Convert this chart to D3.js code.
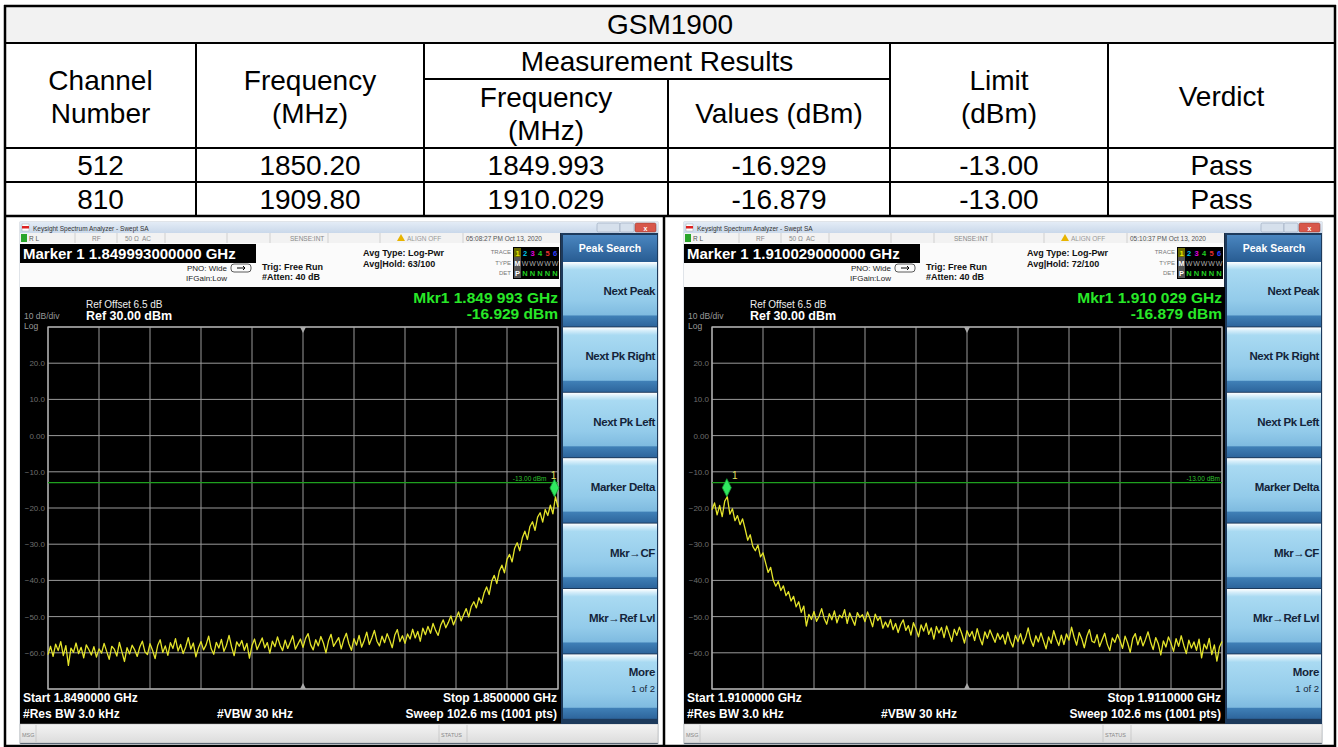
<!DOCTYPE html>
<html>
<head>
<meta charset="utf-8">
<script src="https://cdn.jsdelivr.net/npm/d3@7"></script>
<style>
  body { margin: 0; background: #fff; }
  svg text { font-family: "Liberation Sans", Arial, sans-serif; }
</style>
</head>
<body>
<svg id="chart" width="1338" height="747"></svg>
<script>
// ---- table values
var band = "GSM1900"
var groupHeader = "Measurement Results"
var colHeaders = [["Channel", "Number"], ["Frequency", "(MHz)"], ["Frequency", "(MHz)"], ["Values (dBm)"], ["Limit", "(dBm)"], ["Verdict"]]
var channels = ["512", "810"]
var channelFreqs = ["1850.20", "1909.80"]
var measFreqs = ["1849.993", "1910.029"]
var measValues = ["-16.929", "-16.879"]
var limits = ["-13.00", "-13.00"]
var verdicts = ["Pass", "Pass"]

// ---- analyzer screens
var startGHz = [1.849, 1.910]
var stopGHz = [1.850, 1.911]
var markerGHz = [1.849993, 1.910029]
var markerDbm = [-16.929, -16.879]
var avgHold = ["63/100", "72/100"]
var clock = ["05:08:27 PM Oct 13, 2020", "05:10:37 PM Oct 13, 2020"]
var refDbm = 30
var dbPerDiv = 10
var limitDbm = -13
var softkeys = ["Next Peak", "Next Pk Right", "Next Pk Left", "Marker Delta", "Mkr\u2192CF", "Mkr\u2192Ref Lvl", "More"]

// trace (dBm, evenly spaced over the sweep)
var traceLow = [
  -60.5,-58.2,-61.0,-57.6,-59.4,-56.9,-60.8,-58.0,-63.5,-58.7,-59.9,-57.3,-60.2,-58.5,-61.4,-57.8,-59.1,-60.6,-58.3,-61.2,
  -58.9,-60.1,-57.4,-59.6,-61.8,-58.2,-59.0,-60.9,-57.1,-59.8,-62.4,-58.6,-60.3,-57.9,-59.2,-61.0,-58.4,-56.8,-59.7,-60.5,
  -57.5,-59.3,-61.6,-58.0,-56.4,-59.9,-58.1,-60.7,-57.2,-58.8,-56.1,-59.5,-57.7,-60.2,-58.4,-55.8,-59.0,-57.3,-61.1,-58.6,
  -56.9,-59.2,-57.8,-55.4,-58.9,-60.4,-57.1,-58.7,-56.3,-59.6,-57.9,-55.2,-58.4,-60.8,-57.0,-58.2,-56.6,-59.3,-57.4,-61.5,
  -58.0,-56.2,-59.1,-57.5,-55.9,-58.6,-57.2,-60.1,-56.8,-58.3,-55.6,-57.9,-59.4,-56.5,-58.8,-57.1,-55.3,-59.0,-57.6,-56.2,
  -58.5,-56.0,-54.7,-57.8,-59.2,-56.4,-58.1,-55.5,-57.3,-60.0,-56.7,-54.9,-58.2,-57.0,-55.8,-58.9,-56.3,-54.6,-57.5,-59.3,
  -56.1,-57.9,-55.2,-58.4,-56.6,-54.3,-57.7,-55.9,-53.8,-56.8,-58.1,-55.4,-57.2,-54.7,-56.5,-58.6,-55.1,-53.6,-56.9,-55.3,
  -57.4,-54.8,-56.2,-53.5,-55.9,-54.1,-56.8,-53.2,-55.0,-52.7,-54.6,-51.9,-53.8,-55.2,-52.4,-50.9,-53.1,-51.6,-49.8,-52.3,
  -50.5,-48.7,-51.2,-49.4,-47.8,-50.1,-47.2,-45.9,-47.6,-44.8,-46.3,-43.5,-41.8,-43.9,-40.2,-38.6,-40.9,-37.4,-35.8,-37.9,
  -34.2,-32.8,-34.9,-31.1,-29.6,-31.8,-28.3,-26.4,-28.7,-25.1,-23.8,-26.2,-22.5,-21.3,-23.9,-20.4,-22.1,-19.2,-21.6,-16.9,-19.8
]
var traceHigh = [
  -20.5,-18.6,-21.9,-19.3,-22.4,-18.1,-16.9,-21.7,-20.2,-23.5,
  -22.1,-24.6,-23.0,-25.8,-28.9,-27.4,-30.6,-31.8,-30.2,-33.5,
  -32.4,-35.1,-37.8,-36.4,-39.9,-41.6,-40.3,-42.8,-41.5,-44.2,
  -43.1,-45.7,-44.4,-47.3,-45.9,-48.8,-47.1,-52.6,-49.4,-50.8,
  -48.6,-51.3,-49.9,-47.8,-50.5,-52.1,-49.2,-50.9,-48.4,-51.7,
  -49.6,-50.3,-48.1,-51.9,-49.0,-50.7,-52.4,-48.9,-50.2,-49.5,
  -51.4,-48.7,-50.6,-52.8,-49.3,-51.1,-50.0,-53.2,-51.5,-52.9,
  -50.8,-53.6,-51.9,-54.4,-52.2,-50.9,-53.8,-52.5,-55.1,-51.7,
  -53.4,-55.6,-52.3,-54.0,-51.8,-54.9,-53.1,-56.2,-52.7,-54.5,
  -53.0,-55.8,-52.6,-54.7,-56.9,-53.5,-55.2,-52.9,-54.8,-57.3,
  -53.9,-55.5,-54.1,-56.6,-53.3,-55.9,-57.8,-54.2,-56.0,-53.7,
  -55.4,-57.1,-54.6,-56.3,-55.0,-57.6,-54.3,-56.8,-58.4,-55.2,
  -56.9,-54.7,-57.5,-55.8,-53.1,-56.4,-58.2,-55.3,-57.0,-54.5,
  -56.7,-58.9,-55.6,-57.4,-53.9,-56.2,-58.0,-55.1,-57.7,-54.8,
  -56.5,-52.9,-55.7,-57.9,-54.4,-56.1,-58.6,-55.5,-53.6,-56.8,
  -57.2,-55.0,-58.3,-56.4,-54.6,-57.6,-59.4,-55.9,-57.1,-54.9,
  -56.6,-58.8,-55.4,-57.3,-59.9,-56.0,-54.7,-57.8,-55.5,-58.1,
  -56.3,-54.2,-57.0,-59.1,-55.8,-57.5,-60.6,-56.7,-58.4,-55.6,
  -57.4,-59.6,-56.1,-58.2,-55.3,-57.9,-60.2,-56.5,-58.7,-57.0,
  -59.3,-56.2,-61.4,-57.6,-58.9,-56.0,-60.5,-57.8,-62.3,-58.4,-56.9
]
var traces = [traceLow, traceHigh]

var svg = d3.select("#chart")
var defs = svg.append("defs")

function grad(id, stops){
  var lg = defs.append("linearGradient").attr("id", id).attr("x1",0).attr("y1",0).attr("x2",0).attr("y2",1)
  stops.forEach(function(s){ lg.append("stop").attr("offset", s[0]).attr("stop-color", s[1]) })
}
grad("titleGrad", [[0,"#e4ecf6"],[1,"#c9d8ea"]])
grad("headGrad", [[0,"#4a86c0"],[1,"#285c92"]])
grad("btnGrad", [[0,"#ffffff"],[0.05,"#d6eefa"],[0.12,"#a9daf2"],[0.6,"#93cbea"],[0.82,"#7fbbe0"],[0.84,"#3f7fb6"],[1,"#2d659c"]])
grad("msgGrad", [[0,"#f4f4f4"],[1,"#dcdcdc"]])

// ================= table =================
var colX = [5, 196, 424, 668, 890, 1108, 1335]
var table = svg.append("g")
var fs = 28

table.append("rect").attr("x", 5).attr("y", 6).attr("width", 1330).attr("height", 37).attr("fill", "#f2f2f2")

function cellText(x, y, s){
  table.append("text").attr("x", x).attr("y", y).attr("dy", "0.36em")
       .attr("text-anchor", "middle").attr("font-size", fs).attr("fill", "#000").text(s)
}
function mid(c){ return (colX[c] + colX[c + 1]) / 2 }
function lines(c, cy, arr){
  arr.forEach(function(s, k){ cellText(mid(c), cy + (k - (arr.length - 1) / 2) * 33, s) })
}

cellText(670, 24, band)
cellText((colX[2] + colX[4]) / 2, 61, groupHeader)
lines(0, 96, colHeaders[0])
lines(1, 96, colHeaders[1])
lines(2, 113, colHeaders[2])
lines(3, 113, colHeaders[3])
lines(4, 96, colHeaders[4])
lines(5, 96, colHeaders[5])

var rowCenters = [165, 199]
channels.forEach(function(ch, r){
  var vals = [ch, channelFreqs[r], measFreqs[r], measValues[r], limits[r], verdicts[r]]
  vals.forEach(function(v, c){ cellText(mid(c), rowCenters[r], v) })
})

function hline(x1, x2, y, w){ table.append("line").attr("x1",x1).attr("x2",x2).attr("y1",y).attr("y2",y).attr("stroke","#000").attr("stroke-width",w || 2) }
function vline(x, y1, y2, w){ table.append("line").attr("x1",x).attr("x2",x).attr("y1",y1).attr("y2",y2).attr("stroke","#000").attr("stroke-width",w || 2) }

hline(4, 1336, 6, 2.5)
hline(5, 1335, 43)
hline(colX[2], colX[4], 79)
hline(5, 1335, 148)
hline(5, 1335, 182)
hline(5, 1335, 216, 2.5)
hline(4, 1336, 746, 2.5)
vline(5, 5, 747, 2.5)
vline(1335, 5, 747, 2.5)
vline(colX[1], 43, 216)
vline(colX[2], 43, 216)
vline(colX[3], 79, 216)
vline(colX[4], 43, 216)
vline(colX[5], 43, 216)
vline(664, 216, 747, 2.5)

// ================= analyzer screens =================
var screenX = [20, 684]
var gridL = 28, gridR = 538, gridT = 327, gridB = 689

function txt(g, x, y, s, size, fill, opts){
  opts = opts || {}
  return g.append("text").attr("x", x).attr("y", y).attr("font-size", size).attr("fill", fill)
    .attr("font-weight", opts.bold ? "bold" : "normal")
    .attr("text-anchor", opts.anchor || "start")
    .attr("letter-spacing", opts.ls || 0)
    .text(s)
}

function drawScreen(i){
  var g = svg.append("g").attr("transform", "translate(" + screenX[i] + ",0)")

  // window body
  g.append("rect").attr("x",0).attr("y",222).attr("width",638).attr("height",522).attr("fill","#1c2c40").attr("stroke","#9aa7b5").attr("stroke-width",0.6)

  // title bar
  g.append("rect").attr("x",0).attr("y",222).attr("width",638).attr("height",11).attr("fill","url(#titleGrad)")
  g.append("rect").attr("x",2).attr("y",224).attr("width",7).attr("height",7).attr("fill","#fff").attr("stroke","#999").attr("stroke-width",0.4)
  g.append("rect").attr("x",2).attr("y",226).attr("width",7).attr("height",2.5).attr("fill","#d22")
  txt(g, 13, 230.5, "Keysight Spectrum Analyzer - Swept SA", 6.5, "#333")
  g.append("rect").attr("x",577).attr("y",223).attr("width",23).attr("height",9).attr("rx",1.5).attr("fill","#d6e0ec").attr("stroke","#8a9bb0").attr("stroke-width",0.5)
  g.append("rect").attr("x",600).attr("y",223).attr("width",14).attr("height",9).attr("rx",1.5).attr("fill","#d6e0ec").attr("stroke","#8a9bb0").attr("stroke-width",0.5)
  g.append("rect").attr("x",615).attr("y",223).attr("width",21).attr("height",9).attr("rx",1.5).attr("fill","#d8574a").attr("stroke","#8a3a30").attr("stroke-width",0.5)
  txt(g, 625.5, 230.5, "x", 7, "#fff", {anchor: "middle", bold: true})

  // status row
  g.append("rect").attr("x",0).attr("y",233).attr("width",540).attr("height",10).attr("fill","#f2f2f2")
  g.append("rect").attr("x",1).attr("y",234).attr("width",6).attr("height",8).attr("fill","#2aa52a")
  ;[55, 97, 145, 207, 250, 308, 360, 443].forEach(function(sx){
    g.append("line").attr("x1",sx).attr("x2",sx).attr("y1",233).attr("y2",243).attr("stroke","#bbb").attr("stroke-width",0.6)
  })
  txt(g, 9, 240.5, "R L", 6.5, "#555")
  txt(g, 72, 240.5, "RF", 6.5, "#888")
  txt(g, 105, 240.5, "50 \u03a9", 6.5, "#888")
  txt(g, 122, 240.5, "AC", 6.5, "#888")
  txt(g, 270, 240.5, "SENSE:INT", 6.5, "#888")
  g.append("path").attr("d","M377,241 L381,234 L385,241 Z").attr("fill","#e8b400")
  txt(g, 387, 240.5, "ALIGN OFF", 6.5, "#999")
  txt(g, 446, 240.5, clock[i], 6.5, "#555")

  // marker header + info panel
  g.append("rect").attr("x",0).attr("y",243).attr("width",540).attr("height",44).attr("fill","#fbfbfb")
  g.append("rect").attr("x",0).attr("y",244).attr("width",236).attr("height",19).attr("fill","#000")
  txt(g, 3, 259, "Marker 1 " + markerGHz[i].toFixed(12) + " GHz", 15, "#fff", {bold: true})
  txt(g, 207, 271, "PNO: Wide", 8, "#222", {anchor: "end"})
  txt(g, 207, 281, "IFGain:Low", 8, "#222", {anchor: "end"})
  g.append("rect").attr("x",211).attr("y",264).attr("width",20).attr("height",8).attr("rx",3).attr("fill","none").attr("stroke","#333").attr("stroke-width",0.8)
  g.append("path").attr("d","M217,268 L225,268 L223,266 M225,268 L223,270").attr("fill","none").attr("stroke","#000").attr("stroke-width",1)
  txt(g, 242, 270, "Trig: Free Run", 9, "#111", {bold: true})
  txt(g, 242, 280, "#Atten: 40 dB", 9, "#111", {bold: true})
  txt(g, 343, 256, "Avg Type: Log-Pwr", 9, "#111", {bold: true})
  txt(g, 343, 267, "Avg|Hold: " + avgHold[i], 9, "#111", {bold: true})
  txt(g, 491, 254, "TRACE", 6, "#777", {anchor: "end"})
  txt(g, 491, 265, "TYPE", 6, "#777", {anchor: "end"})
  txt(g, 491, 275, "DET", 6, "#777", {anchor: "end"})
  g.append("rect").attr("x",493).attr("y",247).attr("width",46).attr("height",32).attr("fill","#000")
  var traceCols = ["#e8e800", "#00c8e8", "#e000e0", "#20d020", "#e83030", "#3040ff"]
  g.append("rect").attr("x",494).attr("y",248).attr("width",7).attr("height",30).attr("fill","#555")
  g.append("rect").attr("x",494).attr("y",248).attr("width",7).attr("height",9).attr("fill","#6a6a00")
  traceCols.forEach(function(c, k){
    txt(g, 497.5 + k * 7.5, 255.5, String(k + 1), 7.5, c, {anchor: "middle", bold: true})
    txt(g, 497.5 + k * 7.5, 266, k === 0 ? "M" : "W", 7, k === 0 ? "#fff" : "#aaa", {anchor: "middle", bold: k === 0})
    txt(g, 497.5 + k * 7.5, 276, k === 0 ? "P" : "N", 7.5, k === 0 ? "#fff" : "#22d022", {anchor: "middle", bold: true})
  })

  // display
  g.append("rect").attr("x",0).attr("y",287).attr("width",541).attr("height",437).attr("fill","#000")
  var mkrTxt = markerGHz[i].toFixed(6)
  mkrTxt = mkrTxt.slice(0, 5) + " " + mkrTxt.slice(5)
  txt(g, 538, 303, "Mkr1 " + mkrTxt + " GHz", 15.5, "#28e828", {anchor: "end", bold: true})
  txt(g, 538, 319, markerDbm[i].toFixed(3) + " dBm", 15.5, "#28e828", {anchor: "end", bold: true})
  txt(g, 66, 308, "Ref Offset 6.5 dB", 10, "#eee")
  txt(g, 66, 320, "Ref " + refDbm.toFixed(2) + " dBm", 12.5, "#fff", {bold: true})
  txt(g, 4, 319, "10 dB/div", 8.5, "#999")
  txt(g, 4, 329, "Log", 8.5, "#999")

  var x = d3.scaleLinear().domain([startGHz[i], stopGHz[i]]).range([gridL, gridR])
  var y = d3.scaleLinear().domain([refDbm - 10 * dbPerDiv, refDbm]).range([gridB, gridT])

  var grid = g.append("g")
  grid.selectAll("line.v").data(x.ticks(10)).enter().append("line")
    .attr("x1", function(d){ return x(d) }).attr("x2", function(d){ return x(d) })
    .attr("y1", gridT).attr("y2", gridB).attr("stroke", "#9a9a9a").attr("stroke-width", 1)
  grid.selectAll("line.h").data(y.ticks(10)).enter().append("line")
    .attr("y1", function(d){ return y(d) }).attr("y2", function(d){ return y(d) })
    .attr("x1", gridL).attr("x2", gridR).attr("stroke", "#9a9a9a").attr("stroke-width", 1)
  grid.append("rect").attr("x", gridL).attr("y", gridT).attr("width", gridR - gridL).attr("height", gridB - gridT)
    .attr("fill", "none").attr("stroke", "#b0b0b0").attr("stroke-width", 1.3)

  var yLabels = y.ticks(10).filter(function(d){ return d < refDbm && d > refDbm - 10 * dbPerDiv })
  grid.selectAll("text").data(yLabels).enter().append("text")
    .attr("x", 25).attr("y", function(d){ return y(d) + 3 })
    .attr("text-anchor", "end").attr("font-size", 8).attr("fill", "#6e6e6e")
    .text(function(d){ return d === 0 ? "0.00" : d3.format(".1f")(d) })

  var cx = x((startGHz[i] + stopGHz[i]) / 2)
  grid.append("path").attr("d", "M" + (cx - 3) + "," + gridT + " L" + (cx + 3) + "," + gridT + " L" + cx + "," + (gridT + 6) + " Z").attr("fill", "#aaa")
  grid.append("path").attr("d", "M" + (cx - 3) + "," + gridB + " L" + (cx + 3) + "," + gridB + " L" + cx + "," + (gridB - 6) + " Z").attr("fill", "#aaa")

  var mx = x(markerGHz[i]), my = y(markerDbm[i])

  // limit display line; its label stops short of a marker sitting at the right edge
  g.append("line").attr("x1", gridL).attr("x2", gridR).attr("y1", y(limitDbm)).attr("y2", y(limitDbm))
    .attr("stroke", "#1fa01f").attr("stroke-width", 1.2)
  var limEnd = mx > gridR - 40 ? mx - 8 : gridR - 2
  txt(g, limEnd, y(limitDbm) - 2, limitDbm.toFixed(2) + " dBm", 6.5, "#2fc02f", {anchor: "end"})

  // trace
  var data = traces[i]
  var step = (stopGHz[i] - startGHz[i]) / (data.length - 1)
  var line = d3.line()
    .x(function(d, k){ return x(startGHz[i] + k * step) })
    .y(function(d){ return y(d) })
  g.append("path").datum(data).attr("d", line)
    .attr("fill", "none").attr("stroke", "#e4e42a").attr("stroke-width", 1.3).attr("stroke-linejoin", "round")

  // marker
  g.append("path").attr("d", "M" + mx + "," + my + " L" + (mx + 4.5) + "," + (my - 9) + " L" + mx + "," + (my - 18) + " L" + (mx - 4.5) + "," + (my - 9) + " Z")
    .attr("fill", "#30e860").attr("stroke", "#159a35").attr("stroke-width", 0.8)
  var lx = mx > gridR - 40 ? mx - 1 : mx + 8
  txt(g, lx, my - 18, "1", 10, "#e0e060", {anchor: "middle"})

  // bottom annotation
  txt(g, 3, 702, "Start " + startGHz[i].toFixed(7) + " GHz", 12, "#fff", {bold: true})
  txt(g, 3, 718, "#Res BW 3.0 kHz", 12, "#fff", {bold: true})
  txt(g, 197, 718, "#VBW 30 kHz", 12, "#fff", {bold: true})
  txt(g, 537, 702, "Stop " + stopGHz[i].toFixed(7) + " GHz", 12, "#fff", {anchor: "end", bold: true})
  txt(g, 537, 718, "Sweep  102.6 ms (1001 pts)", 12, "#fff", {anchor: "end", bold: true})

  // message bar
  g.append("rect").attr("x",0).attr("y",724).attr("width",638).attr("height",19).attr("fill","url(#msgGrad)").attr("stroke","#aaa").attr("stroke-width",0.5)
  txt(g, 2, 737, "MSG", 5.5, "#888")
  ;[16, 419, 447].forEach(function(sx){
    g.append("line").attr("x1",sx).attr("x2",sx).attr("y1",725).attr("y2",742).attr("stroke","#bbb").attr("stroke-width",0.6)
  })
  txt(g, 421, 737, "STATUS", 5.5, "#888")

  // softkey panel
  var px = 543, pw = 94
  g.append("rect").attr("x", 541).attr("y", 233).attr("width", 97).attr("height", 491).attr("fill", "#1d3a5c")
  g.append("rect").attr("x", px).attr("y", 235).attr("width", pw).attr("height", 27).attr("fill", "url(#headGrad)")
  txt(g, px + pw / 2, 252, "Peak Search", 10.5, "#fff", {anchor: "middle", bold: true})
  var btnH = 65.4
  softkeys.forEach(function(s, k){
    var top = 262 + k * btnH
    g.append("rect").attr("x", px).attr("y", top).attr("width", pw).attr("height", btnH - 1).attr("fill", "url(#btnGrad)")
    if (s === "More"){
      txt(g, px + pw - 2, top + 22, s, 11.5, "#14243a", {anchor: "end", bold: true, ls: -0.3})
      txt(g, px + pw - 2, top + 38, "1 of 2", 9.5, "#14243a", {anchor: "end"})
    } else {
      txt(g, px + pw - 2, top + 33, s, 11.5, "#14243a", {anchor: "end", bold: true, ls: -0.4})
    }
  })
}

drawScreen(0)
drawScreen(1)
</script>
</body>
</html>
